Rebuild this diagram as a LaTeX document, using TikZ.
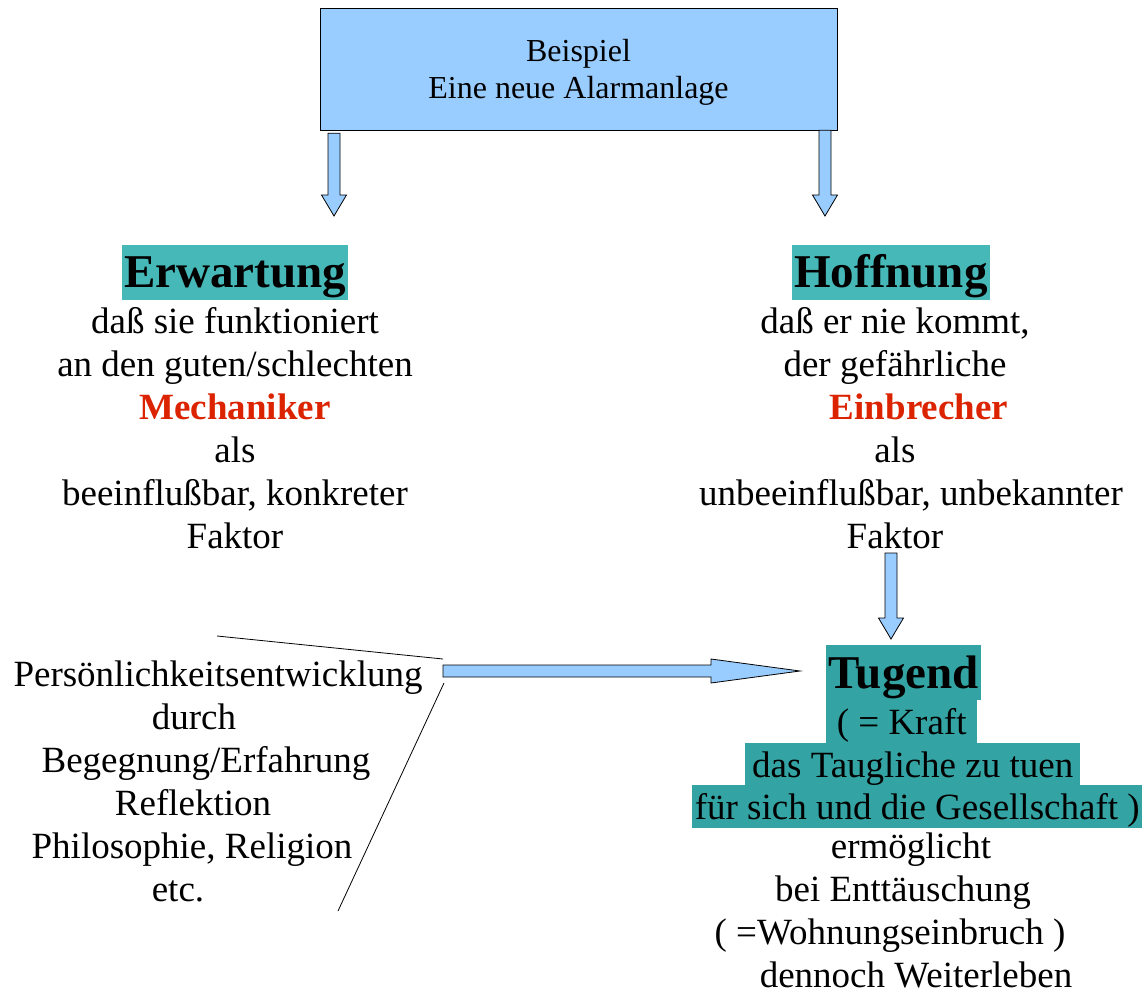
\documentclass[tikz,border=0pt]{standalone}
\usepackage{fontspec}
\setmainfont{Liberation Serif}
\usetikzlibrary{positioning, calc}

\definecolor{boxblue}{HTML}{99CCFF}
\definecolor{headteal}{HTML}{47B8B8}
\definecolor{tugteal}{HTML}{33A3A3}
\definecolor{wordred}{HTML}{DC2300}
\newcommand{\redword}[1]{\textbf{\color{wordred}#1}}
\newcommand{\padright}[1]{\hspace*{#1}\null}

\begin{document}
\begin{tikzpicture}[x=1pt, y=-1pt,
        box/.style={rectangle, draw, fill=boxblue, align=center, minimum width=517pt, minimum height=122pt, text depth=0pt, font=\fontsize{32}{37}\selectfont},
        heading/.style={fill=headteal, inner xsep=2pt, inner ysep=0pt, text height=42pt, text depth=13pt, font=\fontsize{47}{53}\selectfont\bfseries},
        body/.style={align=center, inner sep=0pt, font=\fontsize{37}{43}\selectfont},
        band/.style={fill=tugteal, inner sep=0pt, anchor=base west, text height=34pt, text depth=9pt, font=\fontsize{37}{43}\selectfont},
        bracket/.style={draw, line width=0.8pt},
        downblock/.style={draw, fill=boxblue, line width=0.8pt,
            to path={let \p1=(\tikztostart), \p2=(\tikztotarget) in
                (\x1-6pt,\y1) -- (\x1+6pt,\y1) -- (\x1+6pt,\y2+21pt) -- (\x1+12.5pt,\y2+21pt)
                -- (\x1,\y2) -- (\x1-12.5pt,\y2+21pt) -- (\x1-6pt,\y2+21pt) -- cycle}},
        rightblock/.style={draw, fill=boxblue, line width=0.8pt,
            to path={let \p1=(\tikztostart), \p2=(\tikztotarget) in
                (\x1,\y1+6pt) -- (\x2-89pt,\y1+6pt) -- (\x2-89pt,\y1+12pt) -- (\x2,\y1)
                -- (\x2-89pt,\y1-12pt) -- (\x2-89pt,\y1-6pt) -- (\x1,\y1-6pt) -- cycle}}
    ]
        \useasboundingbox (0,0) rectangle (1144,993);

        \node[box] (Beispiel) at (578.5,69) {Beispiel\\Eine neue Alarmanlage};

        % the two sides (base = last line)
        \node[heading, anchor=base] (Erwartung) at (235,287) {Erwartung};
        \node[body, anchor=base] (Mechanik) at (235,548) {%
            daß sie funktioniert\\
            an den guten/schlechten\\
            \redword{Mechaniker}\\
            als\\
            beeinflußbar, konkreter\\
            Faktor};

        \node[heading, anchor=base] (Hoffnung) at (891,287) {Hoffnung};
        \node[body, anchor=base] (Einbruch) at (895,548) {%
            daß er nie kommt,\\
            der gefährliche\\
            \hspace*{48pt}\redword{Einbrecher}\\
            als\\
            \hspace*{32pt}unbeeinflußbar, unbekannter\\
            Faktor};

        % Tugend, line by line
        \node[band, text height=43pt, text depth=12pt, minimum width=155pt, font=\fontsize{47}{53}\selectfont\bfseries] (Tugend) at (826,688) {Tugend};
        \node[band, minimum width=151pt] (Kraft) at (826,734) {( = Kraft};
        \node[band, minimum width=335pt] (Taugliche) at (745,777) {das Taugliche zu tuen};
        \node[band, minimum width=450pt] (Gesellschaft) at (692,819) {für sich und die Gesellschaft )};
        \node[body, anchor=base] (Weiterleben) at (903,987) {%
            \hspace*{16pt}ermöglicht\\
            bei Enttäuschung\\
            ( =Wohnungseinbruch )\padright{26pt}\\
            \hspace*{26pt}dennoch Weiterleben};

        \node[body, anchor=base] (Entwicklung) at (218,901) {%
            Persönlichkeitsentwicklung\\
            durch\padright{48pt}\\
            Begegnung/Erfahrung\padright{24pt}\\
            Reflektion\padright{50pt}\\
            Philosophie, Religion\padright{52pt}\\
            etc.\padright{80pt}};

        \coordinate (Lend) at (334,216);
        \coordinate (Rend) at (825,216);
        \coordinate (Fstart) at (891,553);
        \coordinate (Fend) at (891,639);
        \coordinate (Ptail) at (443,671);
        \coordinate (Ptip) at ([xshift=-26pt]Tugend.west);
        \coordinate (bA) at (217,636);
        \coordinate (bB) at (443,659);
        \coordinate (bC) at (444,683);
        \coordinate (bD) at (338,911);

        \draw[downblock] ([yshift=-3pt]Beispiel.south -| Lend) to (Lend);
        \draw[downblock] (Beispiel.south -| Rend) to (Rend);
        \draw[downblock] (Fstart) to (Fend);
        \draw[rightblock] (Ptail) to (Ptip |- Ptail);
        \draw[bracket] (bA) -- (bB);
        \draw[bracket] (bC) -- (bD);
    \end{tikzpicture}
\end{document}
